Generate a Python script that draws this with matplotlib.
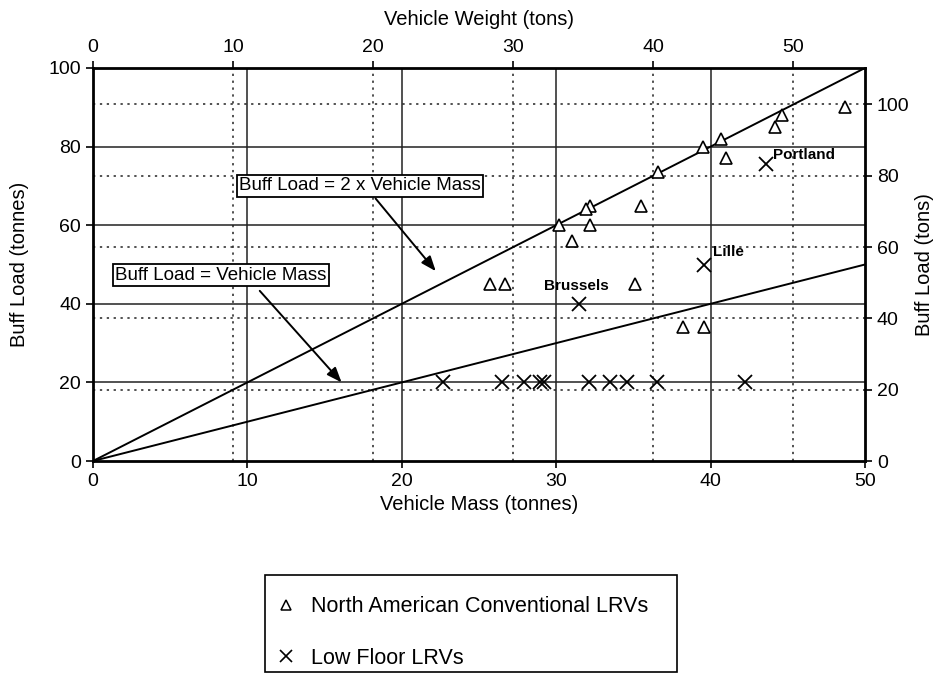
import matplotlib
matplotlib.use("Agg")
import matplotlib.pyplot as plt
from matplotlib.lines import Line2D
from matplotlib.patches import Rectangle

plt.rcParams['font.family'] = ['Liberation Sans', 'DejaVu Sans']

# Conversion between metric tonnes and US short tons
TONS_PER_TONNE = 1.1023

# North American conventional LRVs: vehicle mass (tonnes), buff load (tonnes)
conv_mass = [48.7, 44.6, 44.2, 40.7, 39.5, 41.0, 36.6, 35.5, 32.2, 31.9,
             30.2, 32.2, 31.0, 25.7, 26.7, 35.1, 38.2, 39.6]
conv_buff = [90, 88, 85, 82, 80, 77, 73.5, 65, 65, 64,
             60, 60, 56, 45, 45, 45, 34, 34]

# Low floor LRVs: vehicle mass (tonnes), buff load (tonnes)
lowfloor_mass = [43.6, 39.6, 31.5, 22.7, 26.5, 27.9, 28.95, 29.2, 32.1,
                 33.5, 34.6, 36.5, 42.2]
lowfloor_buff = [75.5, 50, 40, 20, 20, 20, 20, 20, 20,
                 20, 20, 20, 20]

# Named low floor vehicles
named_cars = ["Portland", "Lille", "Brussels"]
named_mass = [43.6, 39.6, 31.5]
named_buff = [75.5, 50, 40]

# Reference ratios: buff load = k x vehicle mass
ref_ratios = [2, 1]
ref_mass = [0, 50]

W, H = 937, 673
fig = plt.figure(figsize=(W / 100, H / 100), dpi=100)
ax = fig.add_axes([93 / W, 1 - 461 / H, 772 / W, 393 / H])

ax.set_xlim(0, 50)
ax.set_ylim(0, 100)

# Solid metric grid
for v in [10, 20, 30, 40]:
    ax.axvline(v, color='#222222', lw=1.1, zorder=1)
for v in [20, 40, 60, 80]:
    ax.axhline(v, color='#222222', lw=1.1, zorder=1)
# Dotted grid at the short-ton ticks
for t in [10, 20, 30, 40, 50]:
    ax.axvline(t / TONS_PER_TONNE, color='#222222', lw=1.1, ls=(0, (1.5, 3)), zorder=1)
for t in [20, 40, 60, 80, 100]:
    ax.axhline(t / TONS_PER_TONNE, color='#222222', lw=1.1, ls=(0, (1.5, 3)), zorder=1)

# Reference lines
for k in ref_ratios:
    ax.plot(ref_mass, [k * m for m in ref_mass], color='black', lw=1.4, zorder=2)

ax.plot(conv_mass, conv_buff, ls='none', marker='^', ms=9, mfc='white',
        mec='black', mew=1.2, zorder=3)
ax.plot(lowfloor_mass, lowfloor_buff, ls='none', marker='x', ms=10,
        mec='black', mew=1.3, zorder=3)

label_offsets = [(5, 2), (6, 4), (-2, 8)]
label_ha = ['left', 'left', 'center']
for name, m, b, off, ha in zip(named_cars, named_mass, named_buff, label_offsets, label_ha):
    ax.annotate(name, (m, b), xytext=off, textcoords='offset points',
                ha=ha, va='bottom', fontsize=11, fontweight='bold', zorder=4)

box = dict(boxstyle='square,pad=0.12', fc='white', ec='black', lw=1.3)
arrow = dict(arrowstyle='-|>,head_length=0.9,head_width=0.35', color='black',
             lw=1.4, shrinkA=0, shrinkB=0)
ax.annotate('Buff Load = 2 x Vehicle Mass', xy=(22.2, 48.3), xytext=(17.3, 70),
            ha='center', va='center', fontsize=13.5, bbox=box, zorder=5)
ax.annotate('', xy=(22.2, 48.3), xytext=(18.3, 66.8), arrowprops=arrow, zorder=5)
ax.annotate('Buff Load = Vehicle Mass', xy=(16.1, 20.0), xytext=(8.3, 47.3),
            ha='center', va='center', fontsize=13.5, bbox=box, zorder=5)
ax.annotate('', xy=(16.1, 20.0), xytext=(10.8, 43.3), arrowprops=arrow, zorder=5)

# Primary axes
ax.set_xticks([0, 10, 20, 30, 40, 50])
ax.set_yticks([0, 20, 40, 60, 80, 100])
ax.set_xlabel('Vehicle Mass (tonnes)', fontsize=14.5, labelpad=4)
ax.set_ylabel('Buff Load (tonnes)', fontsize=14.5, labelpad=14)
ax.tick_params(labelsize=14, direction='out', length=5, width=1.2)
for sp in ax.spines.values():
    sp.set_linewidth(2.0)
    sp.set_zorder(6)

# Secondary axes in short tons
secx = ax.secondary_xaxis('top', functions=(lambda x: x * TONS_PER_TONNE,
                                            lambda x: x / TONS_PER_TONNE))
secx.set_xticks([0, 10, 20, 30, 40, 50])
secx.set_xlabel('Vehicle Weight (tons)', fontsize=14.5, labelpad=10)
secx.tick_params(labelsize=14, direction='out', length=5, width=1.2)

secy = ax.secondary_yaxis('right', functions=(lambda y: y * TONS_PER_TONNE,
                                              lambda y: y / TONS_PER_TONNE))
secy.set_yticks([0, 20, 40, 60, 80, 100])
secy.set_ylabel('Buff Load (tons)', fontsize=14.5, labelpad=4)
secy.tick_params(labelsize=14, direction='out', length=5, width=1.2)

# Legend beneath the plot, in its own framed box
handles = [
    Line2D([], [], ls='none', marker='^', ms=7, mfc='white', mec='black', mew=1.1),
    Line2D([], [], ls='none', marker='x', ms=8, mec='black', mew=1.2),
]
leg = fig.legend(handles, ['North American Conventional LRVs', 'Low Floor LRVs'],
                 loc='upper left', bbox_to_anchor=(271 / W, 1 - 590 / H),
                 fontsize=15.5, frameon=False, labelspacing=1.42,
                 handlelength=0.8, handletextpad=0.75, borderpad=0.3,
                 borderaxespad=0)
fig.patches.append(Rectangle((265 / W, 1 - 672 / H), 412 / W, 97 / H,
                             transform=fig.transFigure, fill=False,
                             ec='black', lw=1.2))

fig.savefig('out.png', dpi=100)
